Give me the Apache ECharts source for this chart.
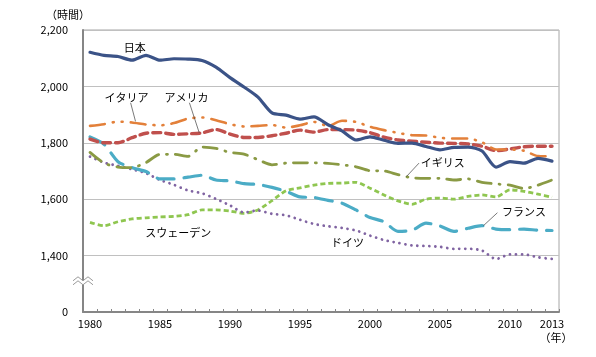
<!DOCTYPE html>
<html><head><meta charset="utf-8">
<script src="https://cdn.jsdelivr.net/npm/echarts@6/dist/echarts.min.js"></script>
<style>html,body{margin:0;padding:0;background:#fff}#c{width:596px;height:357px}</style>
</head><body><div id="c"></div>
<script>
const years = ['1980','1981','1982','1983','1984','1985','1986','1987','1988','1989','1990','1991','1992','1993','1994','1995','1996','1997','1998','1999','2000','2001','2002','2003','2004','2005','2006','2007','2008','2009','2010','2011','2012','2013'];
const xTickLabels = ['1980','1985','1990','1995','2000','2005','2010','2013'];
const yTickLabels = ['0','1,400','1,600','1,800','2,000','2,200'];

const japan   = [2121,2110,2106,2093,2110,2093,2098,2097,2092,2068,2031,1998,1962,1906,1898,1884,1892,1864,1842,1810,1821,1809,1798,1799,1787,1775,1784,1785,1771,1714,1733,1728,1745,1735];
const italy   = [1860,1866,1875,1872,1865,1862,1870,1886,1890,1880,1866,1858,1860,1863,1854,1862,1874,1860,1878,1874,1857,1845,1835,1827,1826,1818,1815,1815,1802,1776,1776,1772,1753,1752];
const usa     = [1813,1800,1800,1818,1834,1836,1830,1832,1835,1847,1831,1819,1819,1825,1834,1845,1838,1847,1847,1845,1836,1820,1810,1806,1802,1799,1798,1796,1788,1772,1778,1786,1788,1788];
const uk      = [1766,1728,1714,1712,1730,1759,1759,1752,1785,1780,1766,1760,1740,1722,1728,1729,1729,1727,1722,1715,1701,1700,1687,1676,1674,1674,1668,1672,1660,1654,1650,1638,1650,1668];
const france  = [1821,1795,1733,1712,1698,1672,1672,1678,1685,1668,1665,1655,1652,1642,1628,1608,1606,1596,1586,1562,1535,1520,1486,1490,1515,1505,1486,1497,1506,1494,1492,1494,1490,1489];
const germany = [1751,1730,1718,1706,1692,1668,1651,1631,1621,1601,1578,1553,1560,1548,1543,1527,1512,1504,1498,1489,1471,1455,1445,1436,1434,1431,1424,1424,1418,1388,1404,1404,1394,1388];
const sweden  = [1518,1506,1520,1530,1534,1537,1539,1545,1562,1562,1558,1550,1562,1595,1630,1640,1650,1656,1657,1660,1639,1615,1594,1582,1600,1604,1600,1610,1615,1608,1633,1628,1618,1607];

// broken axis: values above the break are shifted down by this amount
const BREAK = 1200;

const annotations = [
  {text:'日本',        year:1983.2, value:2138},
  {text:'イタリア',    year:1982.6, value:1961, lead:[[1982.9,1942],[1983.25,1876]]},
  {text:'アメリカ',    year:1986.9, value:1961, lead:[[1987.1,1942],[1987.8,1836]]},
  {text:'イギリス',    year:2005.2, value:1728, lead:[[2003.5,1728],[2002.6,1680]]},
  {text:'フランス',    year:2011.0, value:1555, lead:[[2009.1,1552],[2008.1,1506]]},
  {text:'スウェーデン', year:1986.3, value:1481},
  {text:'ドイツ',      year:1998.4, value:1446}
];

const FONT = '"Noto Sans CJK JP", "Noto Sans", sans-serif';
const shift = a => a.map(v => v - BREAK);

const chart = echarts.init(document.getElementById('c'), null, {renderer:'canvas'});

function mk(name, data, color, width, dash, cap, z) {
  return {
    name, type:'line', data: shift(data), smooth:0.25, symbol:'none', z: z||2,
    lineStyle:{color, width, type: dash || 'solid', cap: cap || 'butt', join:'round'}
  };
}

chart.setOption({
  animation:false,
  backgroundColor:'#fff',
  grid:{left:83, right:37, top:30, bottom:45, show:true, borderColor:'#a6a6a6', borderWidth:1, backgroundColor:'transparent'},
  xAxis:{
    type:'category', data:years, boundaryGap:true,
    axisLine:{lineStyle:{color:'#868686', width:2}},
    axisTick:{show:true, inside:true, length:3, interval:0, lineStyle:{color:'#868686'}},
    axisLabel:{interval:(i,v)=>xTickLabels.includes(v), color:'#000', fontSize:11, margin:6, fontFamily:FONT},
    splitLine:{show:false}
  },
  yAxis:{
    type:'value', min:0, max:1000, interval:200,
    axisLine:{show:true, lineStyle:{color:'#868686', width:2}},
    axisTick:{show:false},
    axisLabel:{color:'#000', fontSize:11, margin:15, fontFamily:FONT,
      formatter:(v)=>yTickLabels[Math.round(v/200)]},
    splitLine:{lineStyle:{color:'#c0c0c0', width:1}}
  },
  series:[
    mk('スウェーデン', sweden, '#8fc650', 2.8, [5,3], 'butt'),
    mk('ドイツ', germany, '#8064a2', 2.8, [0.01,6], 'round'),
    mk('フランス', france, '#4bacc6', 3.2, [17,10], 'round'),
    mk('イギリス', uk, '#8a9a44', 2.8, [14,8,1,8], 'round'),
    mk('アメリカ', usa, '#c0504d', 3.4, [8,5], 'round'),
    mk('イタリア', italy, '#e3803a', 2.6, [15,8,1,8,1,8], 'round'),
    mk('日本', japan, '#3b5387', 3.2, 'solid', 'round', 3)
  ]
});

function px(year, value) {
  const a = chart.convertToPixel({gridIndex:0}, [years[0], value - BREAK]);
  const b = chart.convertToPixel({gridIndex:0}, [years[years.length-1], value - BREAK]);
  const step = (b[0]-a[0])/(years.length-1);
  return [a[0] + (year - Number(years[0]))*step, a[1], step];
}

const g = [];
annotations.forEach(an => {
  const p = px(an.year, an.value);
  g.push({type:'text', x:p[0], y:p[1], z:10,
    style:{text:an.text, fill:'#000', font:'11px '+FONT, textAlign:'center', textVerticalAlign:'middle'}});
  if (an.lead) {
    const p1 = px(an.lead[0][0], an.lead[0][1]);
    const p2 = px(an.lead[1][0], an.lead[1][1]);
    g.push({type:'line', z:10, shape:{x1:p1[0], y1:p1[1], x2:p2[0], y2:p2[1]},
      style:{stroke:'#404040', lineWidth:0.7}});
  }
});

// axis break marker on the y axis
const pb = px(1980, 1300);
const xl = pb[0] - pb[2]/2;
const yb = pb[1];
g.push({type:'polygon', z:20, shape:{points:[[xl-10,yb-3],[xl-5,yb-7],[xl,yb-3],[xl+5,yb-7],[xl+10,yb-3],[xl+10,yb+1],[xl+5,yb-3],[xl,yb+1],[xl-5,yb-3],[xl-10,yb+1]]},
  style:{fill:'#fff', stroke:null}});
g.push({type:'polyline', z:21, shape:{points:[[xl-10,yb-3],[xl-5,yb-7],[xl,yb-3],[xl+5,yb-7],[xl+10,yb-3]]},
  style:{stroke:'#9a9a9a', lineWidth:1, fill:null}});
g.push({type:'polyline', z:21, shape:{points:[[xl-10,yb+1],[xl-5,yb-3],[xl,yb+1],[xl+5,yb-3],[xl+10,yb+1]]},
  style:{stroke:'#9a9a9a', lineWidth:1, fill:null}});

// axis titles
const pt = px(1980, 2200);
g.push({type:'text', x:pt[0]-44, y:pt[1]-15, z:10,
  style:{text:'（時間）', fill:'#000', font:'11px '+FONT, textAlign:'left', textVerticalAlign:'middle'}});
const pe = px(2013, 1200);
g.push({type:'text', x:pe[0]+4, y:pe[1]+26, z:10,
  style:{text:'（年）', fill:'#000', font:'11px '+FONT, textAlign:'center', textVerticalAlign:'middle'}});

chart.setOption({graphic:g});
</script>
</body></html>
